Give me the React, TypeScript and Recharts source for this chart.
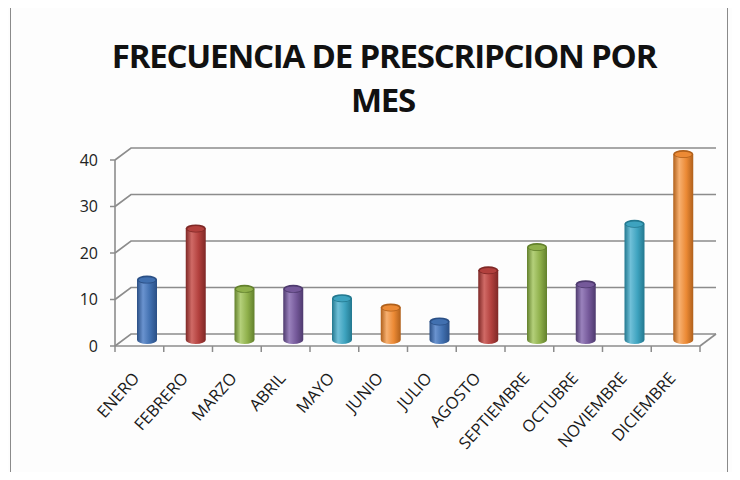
import { BarChart, Bar, XAxis, YAxis, CartesianGrid } from 'recharts';

const MESES = [
  'ENERO',
  'FEBRERO',
  'MARZO',
  'ABRIL',
  'MAYO',
  'JUNIO',
  'JULIO',
  'AGOSTO',
  'SEPTIEMBRE',
  'OCTUBRE',
  'NOVIEMBRE',
  'DICIEMBRE',
];
const FRECUENCIA = [13, 24, 11, 11, 9, 7, 4, 15, 20, 12, 25, 40];
const Y_TICKS = [0, 10, 20, 30, 40];
const TITULO = ['FRECUENCIA DE PRESCRIPCION POR', 'MES'];

// excel 2007 palette, light / mid / dark per colour
const COLORES = [
  ['#6a93cf', '#4170b0', '#2a4f85'],
  ['#d06a66', '#b2403d', '#7e2826'],
  ['#b4d07a', '#8fb04b', '#62802c'],
  ['#9a82bd', '#75599a', '#4e3a6e'],
  ['#70c0d8', '#3ea3bf', '#23788f'],
  ['#f7b070', '#ec8a35', '#b0601b'],
];

const data = MESES.map((mes, i) => ({ mes, frecuencia: FRECUENCIA[i] }));

// depth of the 3d box
const DX = 16;
const DY = -12;
const GRID = '#8c8c8c';
const FONT = "'Open Sans', sans-serif";

function Cilindro(props: any) {
  const { x, y, width, height, index } = props;
  const c = index % COLORES.length;
  const x0 = x + DX / 2;
  const y0 = y + DY / 2;
  const ry = 4;
  const rx = width / 2;
  const body = `M${x0},${y0} L${x0},${y0 + height} A${rx},${ry} 0 0 0 ${x0 + width},${y0 + height} L${x0 + width},${y0} Z`;
  return (
    <g>
      <path d={body} fill={`url(#cil${c})`} />
      <ellipse cx={x0 + rx} cy={y0} rx={rx} ry={ry} fill={COLORES[c][2]} />
      <ellipse cx={x0 + rx} cy={y0 + 0.5} rx={rx - 1.5} ry={ry - 1.2} fill={COLORES[c][1]} />
    </g>
  );
}

function LineaGrid(props: any) {
  const { x1, y1, x2, y2 } = props;
  return (
    <path
      key={props.key ?? `${y1}`}
      d={`M${x1},${y1} L${x1 + DX},${y1 + DY} L${x2 + DX},${y2 + DY}`}
      stroke={GRID}
      strokeWidth={1.6}
      fill="none"
    />
  );
}

const BAND = 585 / 12;

function TickMes(props: any) {
  const { x, y, payload, index } = props;
  const last = index === MESES.length - 1;
  const ax = x + 1;
  const ay = y + 25;
  return (
    <g>
      <line x1={x - BAND / 2} y1={y - 8} x2={x - BAND / 2} y2={y - 2} stroke={GRID} strokeWidth={1.5} />
      {last && (
        <>
          <line x1={x + BAND / 2} y1={y - 8} x2={x + BAND / 2} y2={y - 2} stroke={GRID} strokeWidth={1.5} />
          <path
            d={`M${x + BAND / 2},${y - 8} L${x + BAND / 2 + DX},${y - 8 + DY}`}
            stroke={GRID}
            strokeWidth={1.6}
          />
        </>
      )}
      <text
        x={ax}
        y={ay}
        transform={`rotate(-48 ${ax} ${ay})`}
        textAnchor="end"
        fontFamily={FONT}
        fontSize={16.5}
        fill="#1a1a1a"
      >
        {payload.value}
      </text>
    </g>
  );
}

export default function App() {
  return (
    <div style={{ position: 'relative', width: 740, height: 480, margin: -8, background: '#fdfdfd', overflow: 'hidden' }}>
      <div
        style={{
          position: 'absolute',
          left: 10,
          top: 7,
          width: 716,
          height: 500,
          border: '1.5px solid #8a8a8a',
          background: '#fdfdfd',
        }}
      />
      <svg width={740} height={140} style={{ position: 'absolute', left: 0, top: 0 }}>
        <text
          x={384}
          y={68}
          textAnchor="middle"
          fontFamily={FONT}
          fontWeight="bold"
          fontSize={33}
          letterSpacing={-1.2}
          fill="#111"
        >
          {TITULO[0]}
        </text>
        <text
          x={383}
          y={112}
          textAnchor="middle"
          fontFamily={FONT}
          fontWeight="bold"
          fontSize={33}
          letterSpacing={-1.2}
          fill="#111"
        >
          {TITULO[1]}
        </text>
      </svg>
      <div style={{ position: 'absolute', left: 0, top: 0 }}>
        <BarChart
          width={740}
          height={480}
          data={data}
          margin={{ top: 160, right: 40, left: 0, bottom: 0 }}
        >
          <defs>
            {COLORES.map((col, i) => (
              <linearGradient key={i} id={`cil${i}`} x1="0" y1="0" x2="1" y2="0">
                <stop offset="0%" stopColor={col[2]} />
                <stop offset="30%" stopColor={col[0]} />
                <stop offset="65%" stopColor={col[1]} />
                <stop offset="100%" stopColor={col[2]} />
              </linearGradient>
            ))}
          </defs>
          <CartesianGrid vertical={false} horizontal={(p: any) => <LineaGrid {...p} />} />
          <XAxis
            dataKey="mes"
            height={134}
            interval={0}
            tickLine={false}
            axisLine={{ stroke: GRID, strokeWidth: 1.6 }}
            tick={<TickMes />}
          />
          <YAxis
            width={115}
            domain={[0, 40]}
            ticks={Y_TICKS}
            tickSize={5}
            tickMargin={12}
            tickLine={{ stroke: GRID, strokeWidth: 1.5 }}
            axisLine={{ stroke: GRID, strokeWidth: 1.6 }}
            tick={{ fontFamily: FONT, fontSize: 16, fill: '#222' }}
          />
          <Bar
            dataKey="frecuencia"
            barSize={20}
            shape={<Cilindro />}
            isAnimationActive={false}
          />
        </BarChart>
      </div>
    </div>
  );
}
